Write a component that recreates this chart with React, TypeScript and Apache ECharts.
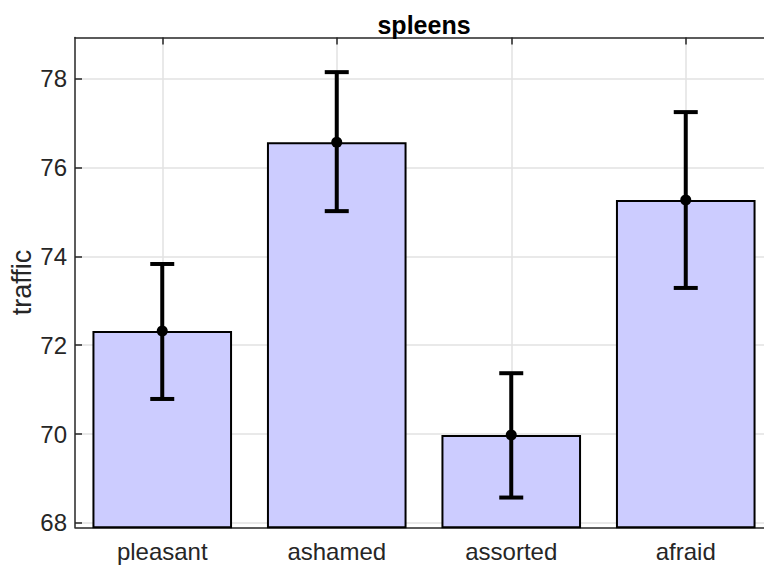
import React, { useEffect, useRef } from "react";
import * as echarts from "echarts";

// Categories and measured means with their error-bar limits
const categories = ["pleasant", "ashamed", "assorted", "afraid"];
const means = [72.32, 76.57, 69.98, 75.27];
const lower = [70.79, 75.02, 68.57, 73.29];
const upper = [73.83, 78.15, 71.37, 77.25];

// Value-axis extent and tick positions
const yMin = 67.9;
const yMax = 78.93;
const yTicks = [68, 70, 72, 74, 76, 78];

const FONT = '"Liberation Sans", Arial, Helvetica, sans-serif';
const INK = "#262626";
const GRID = "#e2e2e2";

export default function App() {
  const ref = useRef<HTMLDivElement>(null);

  useEffect(() => {
    if (!ref.current) return;
    const chart = echarts.init(ref.current, undefined, { renderer: "svg" });

    const axisLine = { show: true, lineStyle: { color: INK, width: 1.5 } };
    const tick = { show: true, inside: true, length: 7, lineStyle: { color: INK, width: 1.5 } };

    const errData = categories.map((_, i) => [i, lower[i], upper[i], means[i]]);

    chart.setOption({
      animation: false,
      backgroundColor: "#ffffff",
      title: {
        text: "spleens",
        left: "center",
        top: 7,
        textStyle: { fontFamily: FONT, fontSize: 25, fontWeight: "bold", color: "#000" },
      },
      grid: { left: 75, right: 75, top: 37.5, bottom: 38.7, outerBoundsMode: "none", containLabel: false },
      xAxis: [
        {
          type: "category",
          data: categories,
          position: "bottom",
          axisLine,
          axisTick: { ...tick, alignWithLabel: true },
          axisLabel: { fontFamily: FONT, fontSize: 24, color: INK, margin: 12 },
          splitLine: { show: true, alignWithLabel: true, lineStyle: { color: GRID, width: 1.5 } },
        },
        {
          type: "category",
          data: categories,
          position: "top",
          axisLine,
          axisTick: { ...tick, alignWithLabel: true },
          axisLabel: { show: false },
          splitLine: { show: false },
        },
      ],
      yAxis: [
        {
          type: "value",
          min: yMin,
          max: yMax,
          position: "left",
          axisLine,
          axisTick: { ...tick, customValues: yTicks },
          axisLabel: {
            fontFamily: FONT,
            fontSize: 24,
            color: INK,
            margin: 8,
            customValues: yTicks,
          },
          splitLine: { show: true, lineStyle: { color: GRID, width: 1.5 } },
          name: "traffic",
          nameLocation: "middle",
          nameGap: 40,
          nameMoveOverlap: false,
          nameTextStyle: { fontFamily: FONT, fontSize: 27, color: INK },
        },
        {
          type: "value",
          min: yMin,
          max: yMax,
          position: "right",
          axisLine,
          axisTick: { ...tick, customValues: yTicks },
          axisLabel: { show: false, customValues: yTicks },
          splitLine: { show: false },
        },
      ],
      series: [
        {
          type: "bar",
          data: means,
          barCategoryGap: "20%",
          itemStyle: { color: "#ccccff", borderColor: "#000", borderWidth: 2 },
          z: 2,
        },
        {
          type: "custom",
          data: errData,
          encode: { x: 0, y: [1, 2] },
          z: 3,
          renderItem: (_params: any, api: any) => {
            const i = api.value(0);
            const lo = api.coord([i, api.value(1)]);
            const hi = api.coord([i, api.value(2)]);
            const mid = api.coord([i, api.value(3)]);
            const cap = 12;
            const st = { stroke: "#000", lineWidth: 4 };
            return {
              type: "group",
              children: [
                { type: "line", shape: { x1: lo[0], y1: lo[1], x2: hi[0], y2: hi[1] }, style: st },
                { type: "line", shape: { x1: lo[0] - cap, y1: lo[1], x2: lo[0] + cap, y2: lo[1] }, style: st },
                { type: "line", shape: { x1: hi[0] - cap, y1: hi[1], x2: hi[0] + cap, y2: hi[1] }, style: st },
                { type: "circle", shape: { cx: mid[0], cy: mid[1], r: 5.5 }, style: { fill: "#000" } },
              ],
            };
          },
        },
      ],
    });

    return () => chart.dispose();
  }, []);

  return (
    <div
      style={{
        position: "fixed",
        left: 0,
        top: 0,
        width: 764,
        height: 566,
        overflow: "hidden",
        background: "#fff",
      }}
    >
      <div ref={ref} style={{ width: 848, height: 566 }} />
    </div>
  );
}
